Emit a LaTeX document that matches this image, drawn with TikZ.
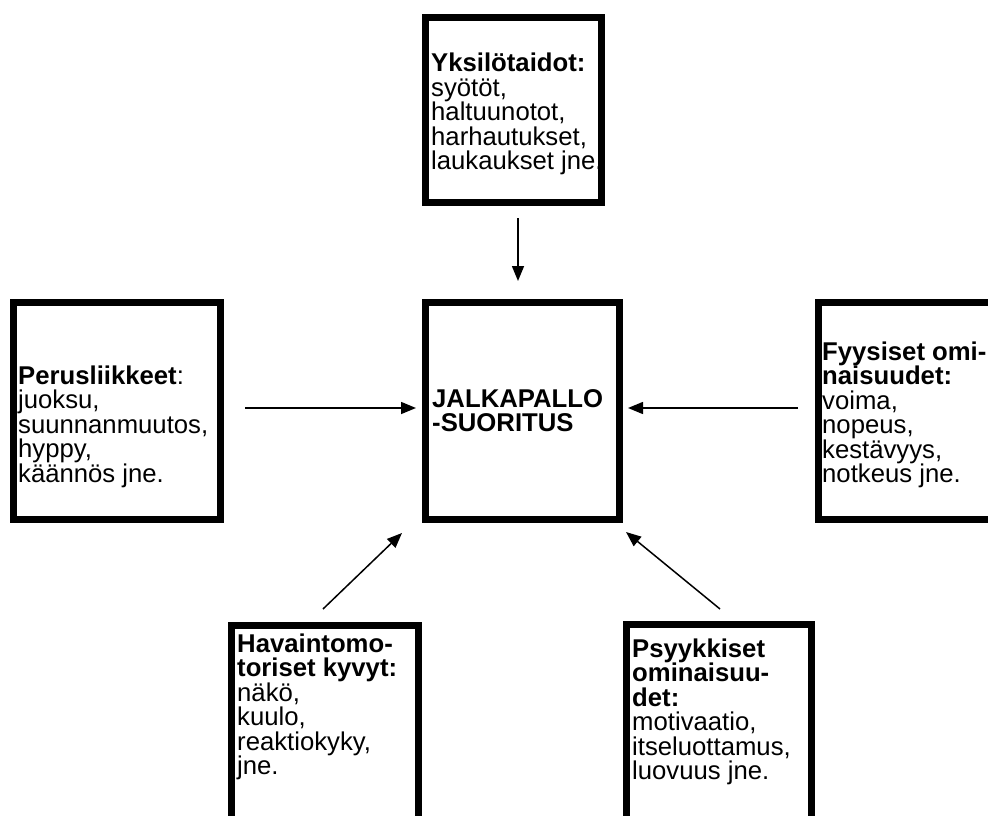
\documentclass[tikz,border=0pt]{standalone}
\usepackage{fontspec}
\setmainfont{Liberation Sans}
\usetikzlibrary{arrows.meta}
\newcommand\rowtxt[1]{\hbox{#1}}
\newcommand\textlines[1]{\vtop{\baselineskip=24.5pt\lineskiplimit=-100pt\lineskip=0pt #1}}
\begin{document}
\begin{tikzpicture}[x=1pt,y=-1pt,
  box/.style={draw=black,line width=7pt,inner sep=0pt,fill=white},
  txt/.style={anchor=base west,inner sep=0pt,font=\fontsize{25.7}{24.5}\selectfont},
  arr/.style={line width=1.5pt,-{Triangle[length=15pt,width=12pt]}}]
\useasboundingbox (0,0) rectangle (988,816);
\clip (0,0) rectangle (988,816);
\fill[white] (0,0) rectangle (988,816);
% boxes
\node[box,minimum width=176pt,minimum height=184pt] (btop) at (513,110) {};
\node[box,minimum width=194pt,minimum height=217pt] (bmid) at (522.5,411) {};
\node[box,minimum width=207pt,minimum height=217pt] (bleft) at (117,411) {};
\node[box,minimum width=191pt,minimum height=217pt] (bright) at (914,411) {};
\node[box,minimum width=187pt,minimum height=215pt] (bbl) at (325,733) {};
\node[box,minimum width=185pt,minimum height=215pt] (bbr) at (719,732) {};
% texts
\node[txt] (ttop) at (431,72) {\textlines{\rowtxt{\bfseries Yksilötaidot:}\rowtxt{syötöt,}\rowtxt{haltuunotot,}\rowtxt{harhautukset,}\rowtxt{laukaukset jne.}}};
\node[txt] (tmid) at (432,407) {\textlines{\rowtxt{\bfseries JALKAPALLO}\rowtxt{\bfseries -SUORITUS}}};
\node[txt] (tleft) at (18,384) {\textlines{\rowtxt{\textbf{Perusliikkeet}:}\rowtxt{juoksu,}\rowtxt{suunnanmuutos,}\rowtxt{hyppy,}\rowtxt{käännös jne.}}};
\node[txt] (tright) at (822,360) {\textlines{\rowtxt{\bfseries Fyysiset omi-}\rowtxt{\bfseries naisuudet:}\rowtxt{voima,}\rowtxt{nopeus,}\rowtxt{kestävyys,}\rowtxt{notkeus jne.}}};
\node[txt] (tbl) at (237,652) {\textlines{\rowtxt{\bfseries Havaintomo-}\rowtxt{\bfseries toriset kyvyt:}\rowtxt{näkö,}\rowtxt{kuulo,}\rowtxt{reaktiokyky,}\rowtxt{jne.}}};
\node[txt] (tbr) at (632,657) {\textlines{\rowtxt{\bfseries Psyykkiset}\rowtxt{\bfseries ominaisuu-}\rowtxt{\bfseries det:}\rowtxt{motivaatio,}\rowtxt{itseluottamus,}\rowtxt{luovuus jne.}}};
% connector ends
\coordinate (a1s) at (518,218); \coordinate (a1e) at (518,281);
\coordinate (a2s) at (245,408); \coordinate (a2e) at (416,408);
\coordinate (a3s) at (798,408); \coordinate (a3e) at (628,408);
\coordinate (a4s) at (323,609); \coordinate (a4e) at (402,533);
\coordinate (a5s) at (720,609); \coordinate (a5e) at (626,532);
\draw[arr] (a1s) -- (a1e);
\draw[arr] (a2s) -- (a2e);
\draw[arr] (a3s) -- (a3e);
\draw[arr] (a4s) -- (a4e);
\draw[arr] (a5s) -- (a5e);
\end{tikzpicture}
\end{document}
